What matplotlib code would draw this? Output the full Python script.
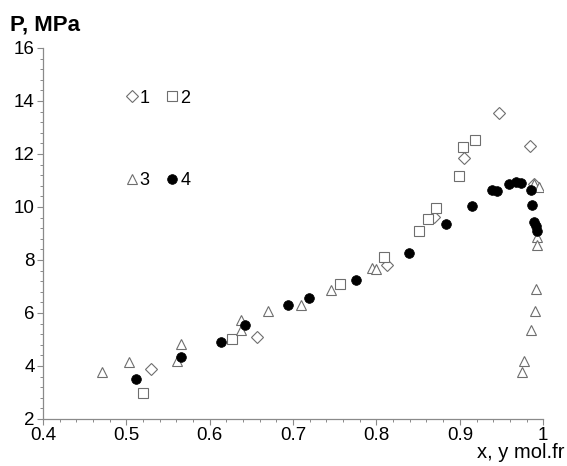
import matplotlib
matplotlib.use('Agg')
import matplotlib.pyplot as plt
from matplotlib.ticker import MultipleLocator

plt.rcParams['font.family'] = ['Liberation Sans', 'DejaVu Sans']

# series 1: diamonds
x1 = [0.530, 0.657, 0.813, 0.869, 0.905, 0.947, 0.984, 0.989]
p1 = [3.89, 5.11, 7.81, 9.62, 11.83, 13.55, 12.29, 10.88]
# series 2: squares
x2 = [0.520, 0.627, 0.756, 0.809, 0.851, 0.862, 0.871, 0.899, 0.904, 0.918]
p2 = [2.98, 5.02, 7.10, 8.13, 9.11, 9.56, 9.97, 11.16, 12.26, 12.52]
# series 3: triangles
x3 = [0.471, 0.503, 0.561, 0.565, 0.637, 0.637, 0.670, 0.710, 0.745, 0.795,
      0.799, 0.989, 0.995, 0.993, 0.992, 0.991, 0.990, 0.985, 0.977, 0.974]
p3 = [3.79, 4.13, 4.17, 4.83, 5.36, 5.73, 6.09, 6.31, 6.87, 7.69,
      7.66, 10.85, 10.75, 8.86, 8.58, 6.89, 6.07, 5.37, 4.20, 3.79]
# series 4: filled circles
x4 = [0.512, 0.565, 0.613, 0.642, 0.694, 0.719, 0.775, 0.839, 0.883, 0.914,
      0.939, 0.945, 0.959, 0.967, 0.973, 0.985, 0.986, 0.989, 0.991, 0.993]
p4 = [3.49, 4.32, 4.89, 5.56, 6.30, 6.55, 7.25, 8.25, 9.34, 10.05,
      10.65, 10.60, 10.88, 10.94, 10.92, 10.65, 10.06, 9.43, 9.30, 9.11]

labels = ['1', '2', '3', '4']

fig = plt.figure(figsize=(5.67, 4.66), dpi=100)
ax = fig.add_axes([0.076, 0.101, 0.882, 0.796])

grey = '#6e6e6e'
h1, = ax.plot(x1, p1, 'D', ms=6, mfc='white', mec=grey, mew=0.8, ls='none', label=labels[0])
h2, = ax.plot(x2, p2, 's', ms=7, mfc='white', mec=grey, mew=0.8, ls='none', label=labels[1])
h3, = ax.plot(x3, p3, '^', ms=7.5, mfc='white', mec=grey, mew=0.8, ls='none', label=labels[2])
h4, = ax.plot(x4, p4, 'o', ms=7, mfc='black', mec='black', mew=0.5, ls='none', label=labels[3])

ax.set_xlim(0.4, 1.0)
ax.set_ylim(2, 16)
ax.xaxis.set_major_locator(MultipleLocator(0.1))
ax.xaxis.set_minor_locator(MultipleLocator(0.02))
ax.yaxis.set_major_locator(MultipleLocator(2))
ax.yaxis.set_minor_locator(MultipleLocator(0.4))
ax.xaxis.set_major_formatter(plt.FuncFormatter(lambda v, _: ('%g' % round(v, 2))))

for s in ['top', 'right']:
    ax.spines[s].set_visible(False)
for s in ['left', 'bottom']:
    ax.spines[s].set_color('#8a8a8a')
    ax.spines[s].set_linewidth(0.9)
ax.tick_params(which='major', direction='out', length=4, width=0.8, color='#8a8a8a',
               labelsize=13.5, pad=2)
ax.tick_params(which='minor', direction='out', length=2.2, width=0.7, color='#8a8a8a')

fig.text(0.018, 0.935, 'P, MPa', fontsize=16, fontweight='bold', ha='left', va='baseline')
fig.text(0.995, 0.018, 'x, y mol.fr', fontsize=14.5, ha='right', va='baseline')

ax.legend([h1, h3, h2, h4], [labels[0], labels[2], labels[1], labels[3]], ncol=2,
          loc='upper left', bbox_to_anchor=(0.166, 0.888), frameon=False,
          fontsize=13, handlelength=0.6, handletextpad=0.15, columnspacing=0.95,
          labelspacing=3.65, borderpad=0, borderaxespad=0)

fig.savefig('out.png', dpi=100)
